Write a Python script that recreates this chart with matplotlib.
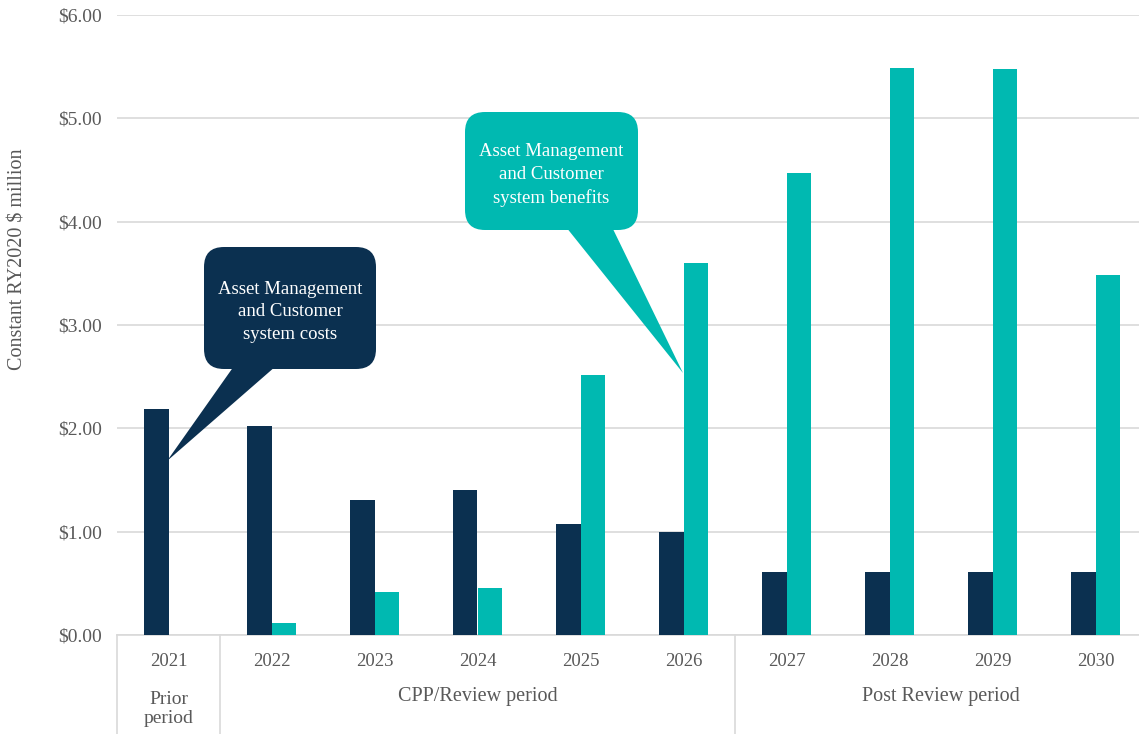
import numpy as np
import matplotlib
matplotlib.use("Agg")
import matplotlib.pyplot as plt
from matplotlib.patches import FancyBboxPatch, Polygon
from matplotlib.transforms import Affine2D

years = ["2021", "2022", "2023", "2024", "2025", "2026", "2027", "2028", "2029", "2030"]
costs = [2.19, 2.02, 1.31, 1.40, 1.07, 1.00, 0.61, 0.61, 0.61, 0.61]
benefits = [0.0, 0.12, 0.42, 0.455, 2.52, 3.60, 4.47, 5.49, 5.48, 3.48]
periods = ["Prior\nperiod", "CPP/Review period", "Post Review period"]
period_spans = [(0, 0), (1, 5), (6, 9)]
yticks = [0, 1, 2, 3, 4, 5, 6]
ytick_labels = ["$0.00", "$1.00", "$2.00", "$3.00", "$4.00", "$5.00", "$6.00"]
ylabel = "Constant RY2020 $ million"
cost_note = "Asset Management\nand Customer\nsystem costs"
benefit_note = "Asset Management\nand Customer\nsystem benefits"

DARK = "#0B3050"
TEAL = "#00B9B1"
GRAY = "#595959"
GRID = "#D9D9D9"
FONT = "Liberation Serif"

W, H = 1139, 734
fig = plt.figure(figsize=(W / 100, H / 100), dpi=100)
L, R, T, B = 117, 1147, 15, 635
ax = fig.add_axes([L / W, 1 - B / H, (R - L) / W, (B - T) / H])

x = np.arange(len(years))
bw = 0.235
ax.bar(x - bw / 2, costs, width=bw, color=DARK, zorder=3)
ax.bar(x + bw / 2, benefits, width=bw, color=TEAL, zorder=3)

ax.set_xlim(-0.5, len(years) - 0.5)
ax.set_ylim(0, 6)
ax.set_yticks(yticks)
ax.set_yticklabels(ytick_labels, fontfamily=FONT, fontsize=14, color=GRAY)
ax.tick_params(axis="y", length=0, pad=11)
ax.set_xticks([])
for s in ["top", "right", "left"]:
    ax.spines[s].set_visible(False)
ax.spines["bottom"].set_color(GRID)
ax.spines["bottom"].set_linewidth(1.2)
ax.grid(axis="y", color=GRID, linewidth=1.2, zorder=0)
ax.set_axisbelow(True)

pix = Affine2D().scale(1 / W, -1 / H).translate(0, 1) + fig.transFigure

for i, yr in enumerate(years):
    xp = L + (i + 0.5) * (R - L) / len(years)
    fig.text(xp, 661, yr, transform=pix, ha="center", va="center",
             fontfamily=FONT, fontsize=13.5, color=GRAY)
for (a, b), name in zip(period_spans, periods):
    xc = L + ((a + b) / 2 + 0.5) * (R - L) / len(years)
    if "\n" in name:
        fig.text(xc, 709, name, transform=pix, ha="center", va="center",
                 fontfamily=FONT, fontsize=14, color=GRAY, linespacing=1.2)
    else:
        fig.text(xc, 697, name, transform=pix, ha="center", va="center",
                 fontfamily=FONT, fontsize=14.5, color=GRAY)
for a, b in period_spans:
    xs = L + a * (R - L) / len(years)
    fig.add_artist(plt.Line2D([xs, xs], [635, 734], transform=pix, color=GRID, linewidth=1.2))

fig.text(18, 259, ylabel, transform=pix, rotation=90, ha="center", va="center",
         fontfamily=FONT, fontsize=14.5, color=GRAY)

def callout(x0, y0, x1, y1, tail, color, text):
    box = FancyBboxPatch((x0, y0), x1 - x0, y1 - y0, boxstyle="round,pad=0,rounding_size=20",
                         transform=pix, facecolor=color, edgecolor="none", zorder=5)
    fig.add_artist(box)
    tri = Polygon(tail, closed=True, transform=pix, facecolor=color, edgecolor="none", zorder=5)
    fig.add_artist(tri)
    fig.text((x0 + x1) / 2, (y0 + y1) / 2 + 4, text, transform=pix, ha="center", va="center",
             fontfamily=FONT, fontsize=13.5, color="white", linespacing=1.45, zorder=6)

callout(204, 247, 376, 369, [(234, 366), (276, 366), (167, 461)], DARK, cost_note)
callout(465, 112, 638, 230, [(566, 227), (612, 227), (683, 373)], TEAL, benefit_note)

fig.savefig("out.png", dpi=100)
